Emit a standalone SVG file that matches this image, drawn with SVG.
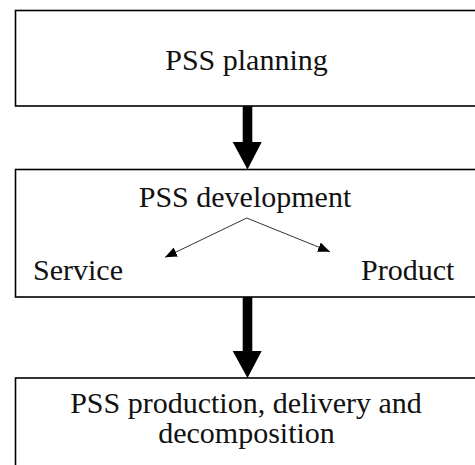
<svg xmlns="http://www.w3.org/2000/svg" width="475" height="465" viewBox="0 0 475 465">
<style>
.box{fill:#fff;stroke:#000;stroke-width:1.6}
text{font-family:'Liberation Serif',Tinos,'DejaVu Serif',serif;font-size:30px;fill:#111}
.m{text-anchor:middle}
.thin{stroke:#333;stroke-width:1;fill:none}
</style>
<defs>
<marker id="ah" viewBox="0 0 12 10" refX="12" refY="5" markerWidth="12" markerHeight="10" markerUnits="userSpaceOnUse" orient="auto">
<path d="M0,0 L12,5 L0,10 Z" fill="#000"/>
</marker>
</defs>
<g id="planning">
<rect class="box" x="15.5" y="10.5" width="470" height="95.5"/>
<text class="m" x="246.5" y="70" font-family="Liberation Serif">PSS planning</text>
</g>
<g id="development">
<rect class="box" x="15.5" y="169.5" width="470" height="127.5"/>
<text class="m" x="245" y="207" font-family="Liberation Serif">PSS development</text>
<text x="33" y="280" font-family="Liberation Serif">Service</text>
<text x="361" y="280" font-family="Liberation Serif">Product</text>
</g>
<g id="production">
<rect class="box" x="15.5" y="378" width="470" height="100"/>
<text class="m" x="246" y="413" font-family="Liberation Serif">PSS production, delivery and</text>
<text class="m" x="246.5" y="443" font-family="Liberation Serif">decomposition</text>
</g>
<g id="connectors">
<path d="M242.7,106 H252.3 V142 H261.7 L247.5,169.5 L232.7,142 H242.7 Z" fill="#000"/>
<path d="M242.7,297 H252.3 V351 H261.7 L247.5,378 L232.7,351 H242.7 Z" fill="#000"/>
<line class="thin" x1="246.7" y1="218" x2="165" y2="257.3" marker-end="url(#ah)"/>
<line class="thin" x1="246.7" y1="218" x2="330" y2="251.7" marker-end="url(#ah)"/>
</g>
</svg>
